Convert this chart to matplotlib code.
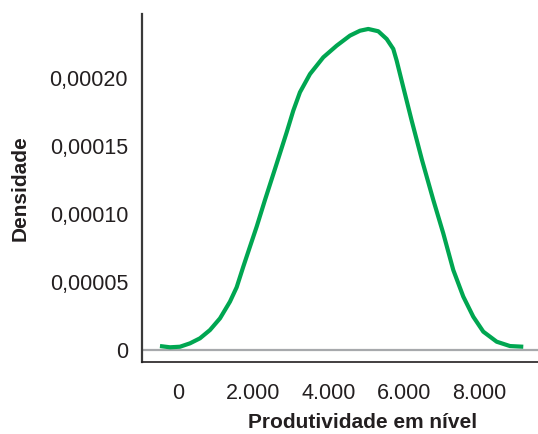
import numpy as np
import matplotlib.pyplot as plt

plt.rcParams['font.family'] = ['Liberation Sans', 'DejaVu Sans']

# density curve
produtividade = [-478, -212, 53, 319, 584, 850, 1116, 1381, 1559, 1734, 1912,
                 2090, 2311, 2576, 2887, 3062, 3240, 3506, 3859, 4215, 4568,
                 4834, 5054, 5320, 5543, 5718, 5809, 5984, 6207, 6481, 6781,
                 7046, 7312, 7578, 7843, 8109, 8465, 8818, 9171]
densidade = [2.9e-6, 2.0e-6, 2.4e-6, 4.9e-6, 8.6e-6, 1.47e-5, 2.33e-5, 3.56e-5,
             4.62e-5, 6.13e-5, 7.61e-5, 9.08e-5, 1.105e-4, 1.333e-4, 1.603e-4,
             1.762e-4, 1.898e-4, 2.032e-4, 2.155e-4, 2.241e-4, 2.315e-4,
             2.351e-4, 2.364e-4, 2.347e-4, 2.290e-4, 2.217e-4, 2.130e-4,
             1.935e-4, 1.689e-4, 1.399e-4, 1.105e-4, 8.59e-5, 5.89e-5, 3.93e-5,
             2.45e-5, 1.35e-5, 6.1e-6, 2.9e-6, 2.4e-6]

xticks = [0, 2000, 4000, 6000, 8000]
xticklabels = ['0', '2.000', '4.000', '6.000', '8.000']
yticks = [0, 0.00005, 0.00010, 0.00015, 0.00020]
yticklabels = ['0', '0,00005', '0,00010', '0,00015', '0,00020']

fig = plt.figure(figsize=(5.38, 4.34), dpi=100)
ax = fig.add_axes([0.2639, 0.1659, 0.7361, 0.8018])

ax.axhline(0, color='#a7a9ac', lw=1.6, zorder=1)
ax.plot(produtividade, densidade, color='#00a651', lw=3,
        solid_joinstyle='round', solid_capstyle='butt', zorder=2)

ax.set_xlim(-956, 9562)
ax.set_ylim(-8.84e-6, 2.474e-4)

ax.set_xticks(xticks)
ax.set_xticklabels(xticklabels)
ax.set_yticks(yticks)
ax.set_yticklabels(yticklabels)
ax.tick_params(axis='both', length=0, labelsize=15.5, colors='#231f20')
ax.tick_params(axis='x', pad=15)
ax.tick_params(axis='y', pad=10)

for s in ['top', 'right']:
    ax.spines[s].set_visible(False)
ax.spines['left'].set_color('#3a3a3a')
ax.spines['left'].set_linewidth(1.6)
ax.spines['bottom'].set_color('#231f20')
ax.spines['bottom'].set_linewidth(1.2)

ax.set_xlabel('Produtividade em nível', fontsize=15, fontweight='bold', color='#231f20')
ax.xaxis.set_label_coords(0.556, -0.175)
ax.xaxis.label.set_va('center')
ax.set_ylabel('Densidade', fontsize=15, fontweight='bold', color='#231f20')
ax.yaxis.set_label_coords(-0.308, 0.5)
ax.yaxis.label.set_va('center')

fig.savefig('out.png', dpi=100)
